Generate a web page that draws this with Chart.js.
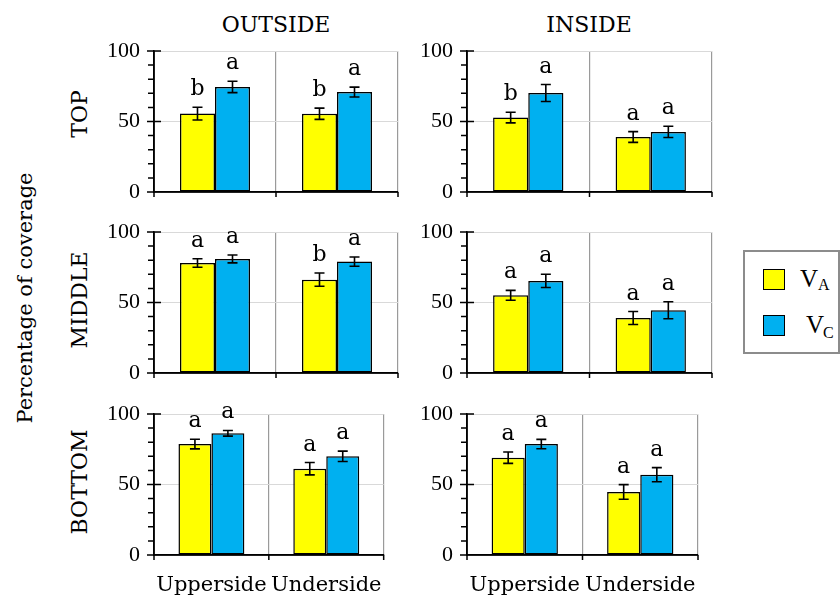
<!DOCTYPE html>
<html>
<head>
<meta charset="utf-8">
<script src="https://cdn.jsdelivr.net/npm/chart.js@4.4.1/dist/chart.umd.min.js"></script>
<style>
  body { margin: 0; background: #fff; }
  #wrap { position: relative; width: 840px; height: 596px; overflow: hidden; font-family: 'DejaVu Serif', serif; color: #000; }
  canvas { position: absolute; }
  .lbl { position: absolute; font-size: 22px; line-height: 22px; white-space: nowrap; }
  .rot { position: absolute; white-space: nowrap; transform: translate(-50%, -50%) rotate(-90deg); }
  .leg { position: absolute; font-family: 'Liberation Serif', serif; white-space: nowrap; }
</style>
</head>
<body>
<div id="wrap">
  <div class="lbl" style="left:276px; top:14px; transform:translateX(-50%);">OUTSIDE</div>
  <div class="lbl" style="left:589px; top:14px; transform:translateX(-50%);">INSIDE</div>
  <div class="rot" style="left:25px; top:298px; font-size:21px; line-height:21px;">Percentage of coverage</div>
  <div class="rot" style="left:80px; top:114px; font-size:22px; line-height:22px;">TOP</div>
  <div class="rot" style="left:80px; top:300px; font-size:22px; line-height:22px;">MIDDLE</div>
  <div class="rot" style="left:80px; top:482px; font-size:22px; line-height:22px;">BOTTOM</div>

  <div style="position:absolute; left:743px; top:250px; width:97px; height:104px; border:2px solid #8c8c8c; box-sizing:border-box;"></div>
  <div style="position:absolute; left:763px; top:269px; width:22px; height:21px; background:#ffff00; border:1.5px solid #000; box-sizing:border-box;"></div>
  <div style="position:absolute; left:763px; top:315px; width:22px; height:21px; background:#00b0f0; border:1.5px solid #000; box-sizing:border-box;"></div>
  <div class="leg" style="left:800px; top:266px; font-size:25px; line-height:25px;">V</div>
  <div class="leg" style="left:818px; top:277px; font-size:16px; line-height:16px;">A</div>
  <div class="leg" style="left:806px; top:312px; font-size:25px; line-height:25px;">V</div>
  <div class="leg" style="left:823px; top:325px; font-size:16px; line-height:16px;">C</div>
</div>
<script>
const categories = ['Upperside', 'Underside'];
const rowNames = ['TOP', 'MIDDLE', 'BOTTOM'];
const yTicks = [0, 50, 100];

// each row: [Upperside, Underside]
const outsideVA = [[55.6, 55.5], [78.0, 66.2], [78.7, 61.2]];
const outsideVAErr = [[4.5, 4.0], [3.0, 4.7], [3.4, 4.4]];
const outsideVC = [[74.5, 70.9], [80.9, 79.0], [86.3, 70.0]];
const outsideVCErr = [[4.0, 3.5], [2.8, 3.3], [2.0, 3.7]];
const outsideVALetters = [['b', 'b'], ['a', 'b'], ['a', 'a']];
const outsideVCLetters = [['a', 'a'], ['a', 'a'], ['a', 'a']];

const insideVA = [[52.8, 39.0], [55.1, 39.0], [69.0, 44.7]];
const insideVAErr = [[3.8, 3.8], [3.5, 4.6], [4.0, 5.2]];
const insideVC = [[70.2, 42.6], [65.3, 44.5], [78.7, 57.0]];
const insideVCErr = [[6.0, 4.0], [4.7, 6.0], [3.3, 5.0]];
const insideVALetters = [['b', 'a'], ['a', 'a'], ['a', 'a']];
const insideVCLetters = [['a', 'a'], ['a', 'a'], ['a', 'a']];

const yellow = '#ffff00';
const blue = '#00b0f0';

const plotTops = [51, 232, 414];
const plotH = 141;

// error bars and letters
const errorPlugin = {
  id: 'errorBars',
  afterDatasetsDraw(chart) {
    const ctx = chart.ctx;
    const y = chart.scales.y;
    ctx.save();
    chart.data.datasets.forEach((ds, di) => {
      const meta = chart.getDatasetMeta(di);
      meta.data.forEach((bar, i) => {
        const v = ds.data[i], e = ds.errors[i];
        const top = y.getPixelForValue(v + e);
        const bot = y.getPixelForValue(v - e);
        ctx.strokeStyle = '#000';
        ctx.lineWidth = 1.6;
        ctx.beginPath();
        ctx.moveTo(bar.x, top); ctx.lineTo(bar.x, bot);
        ctx.moveTo(bar.x - 5, top); ctx.lineTo(bar.x + 5, top);
        ctx.moveTo(bar.x - 5, bot); ctx.lineTo(bar.x + 5, bot);
        ctx.stroke();
        ctx.fillStyle = '#000';
        ctx.font = '22px "DejaVu Serif"';
        ctx.textAlign = 'center';
        ctx.textBaseline = 'alphabetic';
        ctx.fillText(ds.letters[i], bar.x, top - 12);
      });
    });
    ctx.restore();
  }
};

// axis lines and tick marks
const axisPlugin = {
  id: 'axisTicks',
  afterDraw(chart) {
    const ctx = chart.ctx;
    const a = chart.chartArea;
    const y = chart.scales.y;
    ctx.save();
    ctx.strokeStyle = '#000';
    ctx.lineWidth = 1.5;
    ctx.beginPath();
    ctx.moveTo(a.left, a.top); ctx.lineTo(a.left, a.bottom);
    ctx.moveTo(a.left - 7, a.bottom); ctx.lineTo(a.right, a.bottom);
    for (let v = 0; v <= 100; v += 10) {
      const py = y.getPixelForValue(v);
      if (yTicks.includes(v)) {
        ctx.moveTo(a.left - 7, py); ctx.lineTo(a.left + 7, py);
      } else {
        ctx.moveTo(a.left - 6, py); ctx.lineTo(a.left, py);
      }
    }
    const step = (a.right - a.left) / categories.length;
    for (let i = 0; i <= categories.length; i++) {
      const px = a.left + step * i;
      ctx.moveTo(px, a.bottom); ctx.lineTo(px, a.bottom + 5);
    }
    ctx.stroke();
    ctx.restore();
  }
};

function makePanel(col, row) {
  const isBottom = row === 2;
  const va = col === 0 ? outsideVA : insideVA;
  const vaErr = col === 0 ? outsideVAErr : insideVAErr;
  const vc = col === 0 ? outsideVC : insideVC;
  const vcErr = col === 0 ? outsideVCErr : insideVCErr;
  const vaL = col === 0 ? outsideVALetters : insideVALetters;
  const vcL = col === 0 ? outsideVCLetters : insideVCLetters;

  const left = col === 0 ? 100 : 413;
  const width = col === 0 ? 300 : 301;
  const xH = isBottom ? 41 : 30;
  const top = plotTops[row] - 30;
  const height = 30 + plotH + xH;

  const canvas = document.createElement('canvas');
  canvas.width = width;
  canvas.height = height;
  canvas.style.left = left + 'px';
  canvas.style.top = top + 'px';
  canvas.style.width = width + 'px';
  canvas.style.height = height + 'px';
  document.getElementById('wrap').appendChild(canvas);

  new Chart(canvas, {
    type: 'bar',
    data: {
      labels: categories,
      datasets: [
        { label: 'VA', data: va[row], errors: vaErr[row], letters: vaL[row],
          backgroundColor: yellow, borderColor: '#000', borderWidth: 1.5, borderSkipped: false },
        { label: 'VC', data: vc[row], errors: vcErr[row], letters: vcL[row],
          backgroundColor: blue, borderColor: '#000', borderWidth: 1.5, borderSkipped: false }
      ]
    },
    options: {
      responsive: false,
      animation: false,
      devicePixelRatio: 1,
      layout: { padding: { top: 30, right: 2, left: 0, bottom: 0 } },
      datasets: { bar: { categoryPercentage: 0.574, barPercentage: 1 } },
      plugins: { legend: { display: false }, tooltip: { enabled: false } },
      scales: {
        x: {
          offset: true,
          grid: { offset: true, color: '#9a9a9a', lineWidth: 1.2, drawTicks: false },
          border: { color: '#000', width: 1.5 },
          ticks: { display: isBottom, color: '#000', padding: 18,
                   font: { family: 'DejaVu Serif', size: 21 } },
          afterFit: s => { s.height = xH; }
        },
        y: {
          min: 0, max: 100,
          ticks: { stepSize: 10, autoSkip: false, color: '#000', padding: 14,
                   font: { family: 'Liberation Serif', size: 22 },
                   callback: v => (yTicks.includes(v) ? String(v) : '') },
          grid: { drawTicks: false, lineWidth: 1,
                  color: c => (c.tick && (c.tick.value === 50 || c.tick.value === 100)) ? '#d9d9d9' : 'rgba(0,0,0,0)' },
          border: { color: '#000', width: 1.5 },
          afterFit: s => { s.width = 54; }
        }
      }
    },
    plugins: [errorPlugin, axisPlugin]
  });
}

for (let r = 0; r < rowNames.length; r++) {
  makePanel(0, r);
  makePanel(1, r);
}
</script>
</body>
</html>
